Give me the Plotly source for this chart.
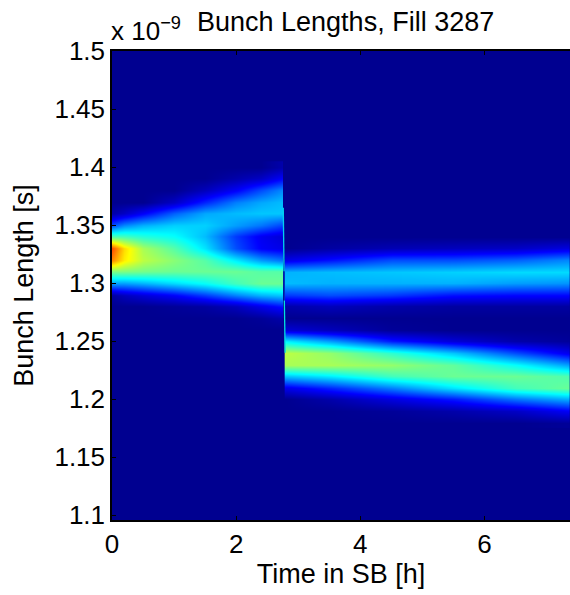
import plotly.graph_objects as go

# Left of the beam-process jump (last two columns pin the sharp edge)
t_before = [0, 0.2, 0.5, 1.0, 1.5, 2.0, 2.4, 2.74, 2.755]
y_before = [1.40, 1.39, 1.38, 1.37, 1.36, 1.35, 1.34, 1.33, 1.32, 1.31, 1.30, 1.29, 1.28, 1.27, 1.26]
z_before = [
    [0, 0, 0, 0, 0, 0, 0, .03, .03],
    [0, 0, 0, 0, 0, .03, .06, .12, .12],
    [0, 0, 0, 0, .05, .12, .2, .26, .26],
    [0, 0, 0, .06, .16, .25, .29, .31, .31],
    [.03, .06, .12, .22, .29, .31, .32, .32, .32],
    [.2, .26, .3, .33, .33, .28, .24, .19, .19],
    [.45, .44, .41, .38, .31, .18, .11, .08, .08],
    [.8, .66, .54, .46, .35, .2, .12, .1, .1],
    [.74, .64, .56, .51, .46, .36, .28, .24, .24],
    [.5, .5, .49, .48, .48, .48, .46, .46, .46],
    [.28, .28, .3, .34, .38, .44, .48, .48, .48],
    [.02, .05, .08, .12, .18, .25, .3, .32, .32],
    [0, 0, 0, .01, .02, .05, .1, .14, .14],
    [0, 0, 0, 0, 0, 0, .01, .03, .03],
    [0, 0, 0, 0, 0, 0, 0, 0, 0],
]

# Right of the jump (first two columns pin the sharp edge)
t_after = [2.79, 2.805, 3.5, 4.5, 5.5, 6.5, 7.4]
y_after = [1.34, 1.33, 1.32, 1.31, 1.30, 1.29, 1.28, 1.27, 1.26, 1.25, 1.24, 1.23, 1.22, 1.21, 1.20, 1.19, 1.18]
z_after = [
    [0, 0, 0, 0, 0, 0, 0],
    [0, 0, .02, .04, .05, .06, .09],
    [.1, .1, .14, .2, .2, .22, .26],
    [.3, .3, .31, .32, .33, .34, .34],
    [.31, .31, .3, .3, .3, .28, .27],
    [.18, .18, .2, .18, .14, .13, .13],
    [.03, .03, .05, .03, .02, .02, .02],
    [0, 0, 0, 0, 0, 0, 0],
    [.08, .08, .05, .01, 0, 0, 0],
    [.36, .36, .28, .15, .08, .03, .01],
    [.56, .56, .52, .42, .32, .2, .1],
    [.54, .54, .54, .52, .47, .38, .28],
    [.32, .32, .36, .44, .48, .48, .45],
    [.1, .1, .16, .25, .35, .44, .48],
    [0, 0, .03, .09, .15, .24, .3],
    [0, 0, 0, .01, .03, .06, .12],
    [0, 0, 0, 0, 0, 0, .01],
]

# The jump itself: upper, dim and lower pieces of the thin streak
jump_t_upper = [2.76, 2.772]
jump_y_upper = [1.365, 1.31]
jump_t_dim = [2.772, 2.777]
jump_y_dim = [1.31, 1.285]
jump_t_lower = [2.777, 2.79]
jump_y_lower = [1.285, 1.24]

x_ticks = [0, 2, 4, 6]
y_ticks = [1.1, 1.15, 1.2, 1.25, 1.3, 1.35, 1.4, 1.45, 1.5]
y_labels = ["1.1", "1.15", "1.2", "1.25", "1.3", "1.35", "1.4", "1.45", "1.5"]

FONT = "Liberation Sans"
BASE = "#000090"
JET = [
    [0, BASE], [0.125, "#0000ff"], [0.375, "#00ffff"],
    [0.625, "#ffff00"], [0.875, "#ff0000"], [1, "#800000"],
]

fig = go.Figure()
for tt, yy, zz in [(t_before, y_before, z_before), (t_after, y_after, z_after)]:
    fig.add_trace(go.Heatmap(x=tt, y=yy, z=zz, zmin=0, zmax=1, zsmooth="best",
                             colorscale=JET, showscale=False))
for jt, jy, col in [(jump_t_upper, jump_y_upper, "#00d0f0"),
                    (jump_t_dim, jump_y_dim, "#0030c0"),
                    (jump_t_lower, jump_y_lower, "#00e0e0")]:
    fig.add_trace(go.Scatter(x=jt, y=jy, mode="lines", line=dict(color=col, width=1.3), showlegend=False))

axis = dict(showgrid=False, zeroline=False, showline=True, linecolor="#000", linewidth=1.5,
            ticks="inside", ticklen=4, tickcolor="#000", tickwidth=1,
            tickfont=dict(family=FONT, size=26, color="#000"))
fig.update_layout(
    width=570, height=595, autosize=False,
    margin=dict(l=111.5, r=0, t=51, b=74.5),
    paper_bgcolor="#fff", plot_bgcolor=BASE,
    font=dict(family=FONT, color="#000"),
    xaxis=dict(axis, range=[0, 7.38], tickvals=x_ticks, ticktext=[str(v) for v in x_ticks],
               mirror="ticks", title=dict(text="Time in SB [h]", font=dict(family=FONT, size=27), standoff=4)),
    yaxis=dict(axis, range=[1.096, 1.5], tickvals=y_ticks, ticktext=y_labels,
               title=dict(text="Bunch Length [s]", font=dict(family=FONT, size=27), standoff=13)),
    annotations=[
        dict(text="x 10<sup>−9</sup>", xref="paper", yref="paper", x=0, y=1, xanchor="left", yanchor="bottom",
             xshift=-3, yshift=3, showarrow=False, font=dict(family=FONT, size=26)),
        dict(text="Bunch Lengths, Fill 3287", xref="paper", yref="paper", x=0.509, y=1, xanchor="center", yanchor="bottom",
             yshift=12, showarrow=False, font=dict(family=FONT, size=27)),
    ],
)
fig.write_html("out.html", config=dict(displayModeBar=False),
               post_script="document.body.style.margin='0';")
